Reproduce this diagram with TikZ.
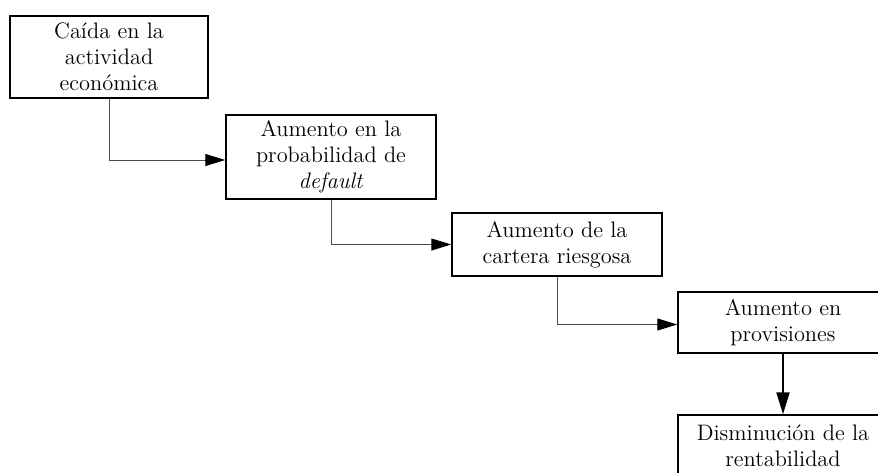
\documentclass[tikz,border=0pt]{standalone}
\usetikzlibrary{arrows.meta,calc}
\begin{document}
\begin{tikzpicture}[x=0.5pt,y=-0.5pt,
  box/.style={draw=black,line width=0.75pt,align=center,inner sep=0pt,
    font=\fontsize{11.2}{13}\selectfont},
  link/.style={draw=black!70,line width=0.5pt,
    -{Triangle[length=10pt,width=6pt,color=black]}},
  strong/.style={draw=black,line width=1pt,
    -{Triangle[length=11pt,width=6.5pt,color=black]}}]
\useasboundingbox (0,0) rectangle (878,472);
\clip (0,0) rectangle (878,472);
\node[box,minimum width=99pt,minimum height=41pt] (b1) at (109,57)
  {Caída en la\\actividad\\económica};
\node[box,minimum width=105pt,minimum height=42pt] (b2) at (331,157)
  {Aumento en la\\probabilidad de\\\textit{default}};
\node[box,minimum width=105pt,minimum height=31.5pt] (b3) at (557,244.5)
  {Aumento de la\\cartera riesgosa};
\node[box,minimum width=105pt,minimum height=30.5pt] (b4) at (783,322.5)
  {Aumento en\\provisiones};
\node[box,minimum width=105pt,minimum height=31pt] (b5) at (783,446)
  {Disminución de la\\rentabilidad};
\draw[link] (b1.south) |- ([yshift=-1.5pt]b2.west);
\draw[link] (b2.south) |- (b3.west);
\draw[link] (b3.south) |- ([yshift=-1pt]b4.west);
\draw[strong] (b4.south) -- (b5.north);
\end{tikzpicture}
\end{document}
